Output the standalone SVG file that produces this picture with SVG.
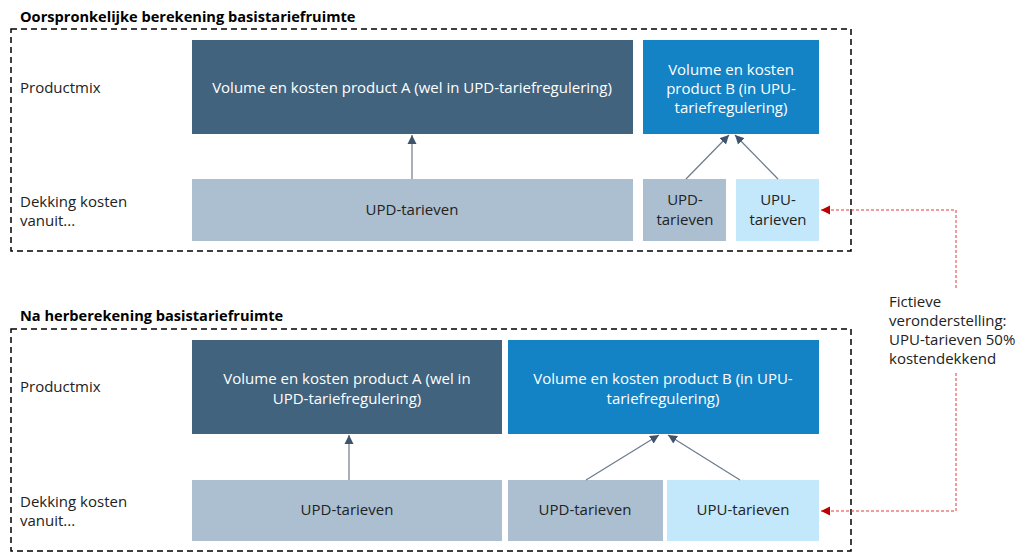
<svg xmlns="http://www.w3.org/2000/svg" width="1016" height="554" viewBox="0 0 1016 554">
<style>
text{font-family:"Open Sans","Noto Sans","Liberation Sans",sans-serif;font-size:15px;fill:#222}
.h{font-weight:bold;font-size:14.6px;fill:#000}
.w{fill:#fff}
.c{text-anchor:middle}
.frame{fill:none;stroke:#000;stroke-width:1.5;stroke-dasharray:6,4}
.dA{fill:#41637E}.dB{fill:#1383C6}.lA{fill:#ABBFD0}.lB{fill:#C3E7FB}
.ar{stroke:#6B7A8C;stroke-width:1.2;fill:none;marker-end:url(#ah)}
.rd{stroke:#E03A3A;stroke-width:1;stroke-dasharray:3,2;fill:none}
.rda{marker-end:url(#rh)}
</style>
<defs>
<marker id="ah" markerWidth="10" markerHeight="10" refX="9" refY="5" orient="auto" markerUnits="userSpaceOnUse"><path d="M0,0.5 L9,5 L0,9.5 z" fill="#3F546C"/></marker>
<marker id="rh" markerWidth="10" markerHeight="10" refX="9" refY="5" orient="auto" markerUnits="userSpaceOnUse"><path d="M0,0.5 L9,5 L0,9.5 z" fill="#C00000"/></marker>
</defs>
<g id="frame-top">
<text class="h" x="20" y="22">Oorspronkelijke berekening basistariefruimte</text>
<rect class="frame" x="11" y="29" width="840" height="222"/>
<text x="20" y="93">Productmix</text>
<text x="20" y="207">Dekking kosten</text>
<text x="20" y="226">vanuit...</text>
</g>
<g id="t-A"><rect class="dA" x="192" y="40" width="441" height="94"/><text class="w c" x="412" y="93">Volume en kosten product A (wel in UPD-tariefregulering)</text></g>
<g id="t-B"><rect class="dB" x="643" y="40" width="176" height="94"/><text class="w c" x="731" y="75">Volume en kosten</text><text class="w c" x="731" y="94">product B (in UPU-</text><text class="w c" x="731" y="113">tariefregulering)</text></g>
<g id="t-UPD"><rect class="lA" x="192" y="179" width="441" height="62"/><text class="c" x="412" y="215">UPD-tarieven</text></g>
<g id="t-UPD2"><rect class="lA" x="643" y="179" width="83" height="62"/><text class="c" x="685" y="205">UPD-</text><text class="c" x="685" y="225">tarieven</text></g>
<g id="t-UPU"><rect class="lB" x="736" y="179" width="83" height="62"/><text class="c" x="778" y="205">UPU-</text><text class="c" x="778" y="225">tarieven</text></g>
<g id="frame-bottom">
<text class="h" x="20" y="321">Na herberekening basistariefruimte</text>
<rect class="frame" x="11" y="329" width="840" height="222"/>
<text x="20" y="392">Productmix</text>
<text x="20" y="507">Dekking kosten</text>
<text x="20" y="526">vanuit...</text>
</g>
<g id="b-A"><rect class="dA" x="192" y="340" width="310" height="94"/><text class="w c" x="347" y="384">Volume en kosten product A (wel in</text><text class="w c" x="347" y="404">UPD-tariefregulering)</text></g>
<g id="b-B"><rect class="dB" x="508" y="340" width="311" height="94"/><text class="w c" x="663" y="384">Volume en kosten product B (in UPU-</text><text class="w c" x="663" y="404">tariefregulering)</text></g>
<g id="b-UPD"><rect class="lA" x="192" y="480" width="310" height="61"/><text class="c" x="347" y="515">UPD-tarieven</text></g>
<g id="b-UPD2"><rect class="lA" x="508" y="480" width="155" height="61"/><text class="c" x="585" y="515">UPD-tarieven</text></g>
<g id="b-UPU"><rect class="lB" x="667" y="480" width="152" height="61"/><text class="c" x="743" y="515">UPU-tarieven</text></g>
<g id="note"><text x="889" y="307">Fictieve</text><text x="889" y="326">veronderstelling:</text><text x="889" y="345">UPU-tarieven 50%</text><text x="889" y="364">kostendekkend</text></g>
<g id="connectors">
<line class="ar" x1="412" y1="179" x2="412" y2="135"/>
<line class="ar" x1="686" y1="179" x2="729" y2="135"/>
<line class="ar" x1="778" y1="179" x2="735" y2="135"/>
<line class="ar" x1="349" y1="480" x2="349" y2="435"/>
<line class="ar" x1="586" y1="480" x2="659" y2="435"/>
<line class="ar" x1="740" y1="480" x2="668" y2="435"/>
<path class="rd rda" d="M956,288 V210 H821"/>
<path class="rd rda" d="M956,373 V511 H821"/>
</g>
</svg>
